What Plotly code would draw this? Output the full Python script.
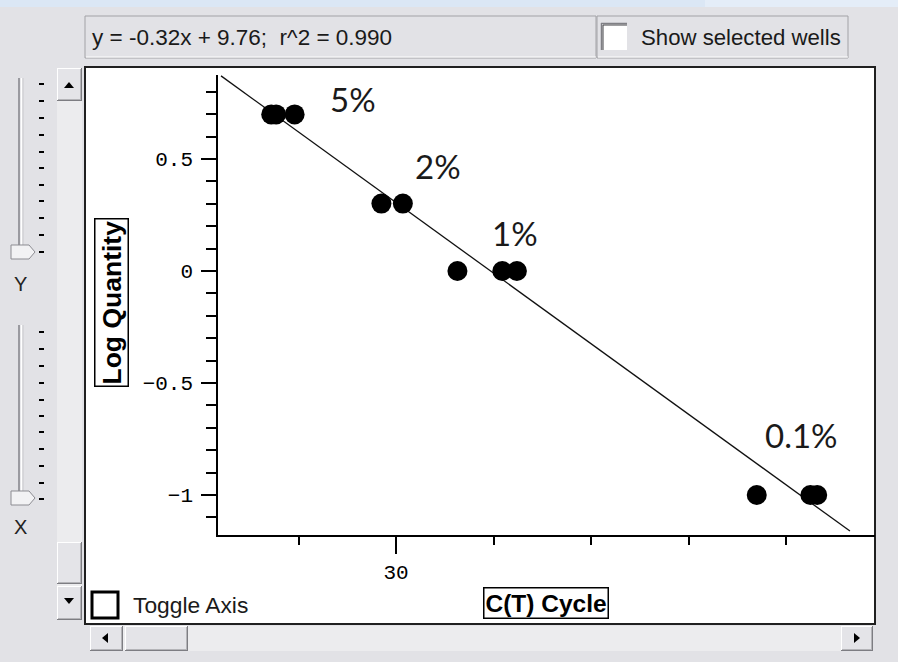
import plotly.graph_objects as go

W, H = 898, 662

# ---------------- data ----------------
ct_cycle = [28.72, 28.77, 28.96, 29.85, 30.07, 30.63, 31.09, 31.24, 33.70, 34.25, 34.32]
log_quantity = [0.699, 0.699, 0.699, 0.301, 0.301, 0.0, 0.0, 0.0, -1.0, -1.0, -1.0]
fit_x = [28.205, 34.656]
fit_y = [0.871, -1.161]
dilution_labels = ["5%", "2%", "1%", "0.1%"]
equation_text = "y = -0.32x + 9.76;  r^2 = 0.990"
y_major_vals = [0.5, 0.0, -0.5, -1.0]
y_major_text = ["0.5", "0", "\u22120.5", "\u22121"]
y_minor_vals = [0.8, 0.7, 0.6, 0.4, 0.3, 0.2, 0.1, -0.1, -0.2, -0.3, -0.4, -0.6, -0.7, -0.8, -0.9, -1.1]
x_major_vals = [30]
x_major_text = ["30"]
x_minor_vals = [29, 31, 32, 33, 34]

# ---------------- helpers (pixel -> paper) ----------------
def X(px):
    return px / W

def Y(py):
    return 1 - py / H

shapes = []
annotations = []

def rect(x0, y0, x1, y1, fill, line=None, lw=0, layer="below"):
    shapes.append(dict(type="rect", xref="paper", yref="paper",
                       x0=X(x0), x1=X(x1), y0=Y(y1), y1=Y(y0),
                       fillcolor=fill, layer=layer,
                       line=dict(color=line if line else "rgba(0,0,0,0)", width=lw)))

def seg(x0, y0, x1, y1, color, lw=1, layer="below"):
    shapes.append(dict(type="line", xref="paper", yref="paper",
                       x0=X(x0), x1=X(x1), y0=Y(y0), y1=Y(y1),
                       layer=layer, line=dict(color=color, width=lw)))

def poly(pts, fill, line=None, lw=0, layer="below"):
    p = "M " + " L ".join(f"{X(a):.5f},{Y(b):.5f}" for a, b in pts) + " Z"
    shapes.append(dict(type="path", xref="paper", yref="paper", path=p,
                       fillcolor=fill, layer=layer,
                       line=dict(color=line if line else "rgba(0,0,0,0)", width=lw)))

def text(px, py, s, size, family="Liberation Sans", color="#111", xanchor="left",
         yanchor="middle", **kw):
    annotations.append(dict(x=X(px), y=Y(py), xref="paper", yref="paper", text=s,
                            showarrow=False, xanchor=xanchor, yanchor=yanchor,
                            font=dict(size=size, family=family, color=color), **kw))

def button(x0, y0, x1, y1):
    rect(x0, y0, x1, y1, "#e4e4e8")
    seg(x0, y0 + 0.5, x1, y0 + 0.5, "#ffffff", 1)
    seg(x0 + 0.5, y0, x0 + 0.5, y1, "#ffffff", 1)
    seg(x0, y1 - 0.5, x1, y1 - 0.5, "#7d7d82", 1)
    seg(x1 - 0.5, y0, x1 - 0.5, y1, "#7d7d82", 1)
    seg(x0 + 1, y1 - 1.5, x1 - 1, y1 - 1.5, "#b4b4b8", 1)
    seg(x1 - 1.5, y0 + 1, x1 - 1.5, y1 - 1, "#b4b4b8", 1)

BG = "#e2e2e6"

# top blue strip
rect(0, 0, 898, 7, "#dbe7f5")
rect(705, 0, 898, 7, "#e4edf8")

# equation box
rect(85, 16, 596, 58, BG, "#a2a2a6", 1)
seg(86, 57, 596, 57, "#ffffff", 1)
text(90, 37, equation_text, 22.5, color="#1a1a1a")

# show selected wells box
rect(597, 16, 848, 58, BG, "#a2a2a6", 1)
seg(598, 57, 848, 57, "#ffffff", 1)
rect(601, 23, 627, 50, "#ffffff")
seg(601, 23.5, 627, 23.5, "#7f7f84", 1.5)
seg(601.5, 23, 601.5, 50, "#7f7f84", 1.5)
seg(603, 25, 627, 25, "#404044", 1)
seg(603, 25, 603, 50, "#404044", 1)
text(639, 38, "Show selected wells", 22.2, color="#1a1a1a")

# main white panel
rect(85, 67, 875, 624, "#ffffff", "#202020", 2)

# vertical scrollbar
rect(57, 68, 82, 620, "#ececee")
button(57, 68, 82, 101)
poly([(64, 88), (74, 88), (69, 82)], "#000000")
button(57, 542, 82, 584)
button(57, 586, 82, 620)
poly([(64, 598), (74, 598), (69, 604)], "#000000")

# horizontal scrollbar
rect(90, 626, 873, 651, "#ececee")
button(90, 626, 123, 651)
poly([(108, 633), (108, 643), (102, 638)], "#000000")
button(125, 626, 188, 651)
button(841, 626, 873, 651)
poly([(854, 633), (854, 643), (860, 638)], "#000000")

# sliders
def slider(y0, y1, ticks, thumb_y):
    seg(19, y0, 19, y1, "#9a9aa0", 2)
    seg(21.5, y0, 21.5, y1, "#ffffff", 1.5)
    seg(23, y0, 23, y1, "#c8c8cc", 1)
    for ty in ticks:
        seg(39, ty, 44, ty, "#000000", 2)
    poly([(11, thumb_y - 7), (29, thumb_y - 7), (35, thumb_y), (29, thumb_y + 7), (11, thumb_y + 7)],
         "#f2f2f4", "#8c8c92", 1)

slider(78, 253, [84, 101, 118, 135, 152, 168, 185, 201, 218, 235, 252], 252)
slider(325, 497, [332, 349, 366, 383, 400, 416, 432, 449, 466, 483, 499], 498)
text(20, 284, "Y", 20, color="#222", xanchor="center")
text(20, 527, "X", 20, color="#222", xanchor="center")

# toggle axis checkbox
rect(92, 592, 118, 618, "#ffffff", "#000000", 3, layer="above")
text(131, 605, "Toggle Axis", 22.8, color="#1a1a1a")

# boxed axis titles
text(546, 603, "C(T) Cycle", 24.5, family="Liberation Sans", color="#000",
     xanchor="center", bordercolor="#000", borderwidth=1.5, borderpad=1, bgcolor="#fff")
annotations[-1]["font"]["weight"] = "bold"
text(111, 303, "Log Quantity", 26.5, family="Liberation Sans", color="#000",
     xanchor="center", textangle=-90, bordercolor="#000", borderwidth=1.5, borderpad=1,
     bgcolor="#fff")
annotations[-1]["font"]["weight"] = "bold"

# percentage labels
for (px, py), lab in zip([(353, 99), (438, 166), (515, 233), (801, 435)], dilution_labels):
    text(px, py, lab, 33, family="Lato", color="#1a1a1a", xanchor="center")

# ---------------- figure ----------------
fig = go.Figure()
fig.add_trace(go.Scatter(x=fit_x, y=fit_y, mode="lines",
                         line=dict(color="#111111", width=1.3), hoverinfo="skip"))
fig.add_trace(go.Scatter(x=ct_cycle, y=log_quantity, mode="markers",
                         marker=dict(color="#000000", size=20, line=dict(width=0))))

mono = dict(family="Liberation Mono", size=21, color="#000")
fig.update_layout(
    width=W, height=H,
    margin=dict(l=0, r=0, t=0, b=0),
    paper_bgcolor=BG,
    plot_bgcolor="rgba(0,0,0,0)",
    showlegend=False,
    shapes=shapes,
    annotations=annotations,
    xaxis=dict(domain=[X(218), X(875)], range=[28.174, 34.913],
               showgrid=False, zeroline=False, showline=True, linecolor="#000", linewidth=1.5,
               ticks="outside", ticklen=17, tickwidth=2, tickcolor="#000",
               tickvals=x_major_vals, ticktext=x_major_text, tickfont=mono,
               minor=dict(tickvals=x_minor_vals, ticks="outside", ticklen=8, tickwidth=2,
                          tickcolor="#000", showgrid=False),
               fixedrange=True),
    yaxis=dict(domain=[Y(535), Y(75)], range=[-1.1786, 0.875],
               showgrid=False, zeroline=False, showline=True, linecolor="#000", linewidth=1.5,
               ticks="outside", ticklen=15, tickwidth=2, tickcolor="#000",
               tickvals=y_major_vals, ticktext=y_major_text, tickfont=mono,
               ticklabelstandoff=4,
               minor=dict(tickvals=y_minor_vals, ticks="outside", ticklen=10, tickwidth=2,
                          tickcolor="#000", showgrid=False),
               fixedrange=True),
)

fig.write_html("out.html", config={"displayModeBar": False})
